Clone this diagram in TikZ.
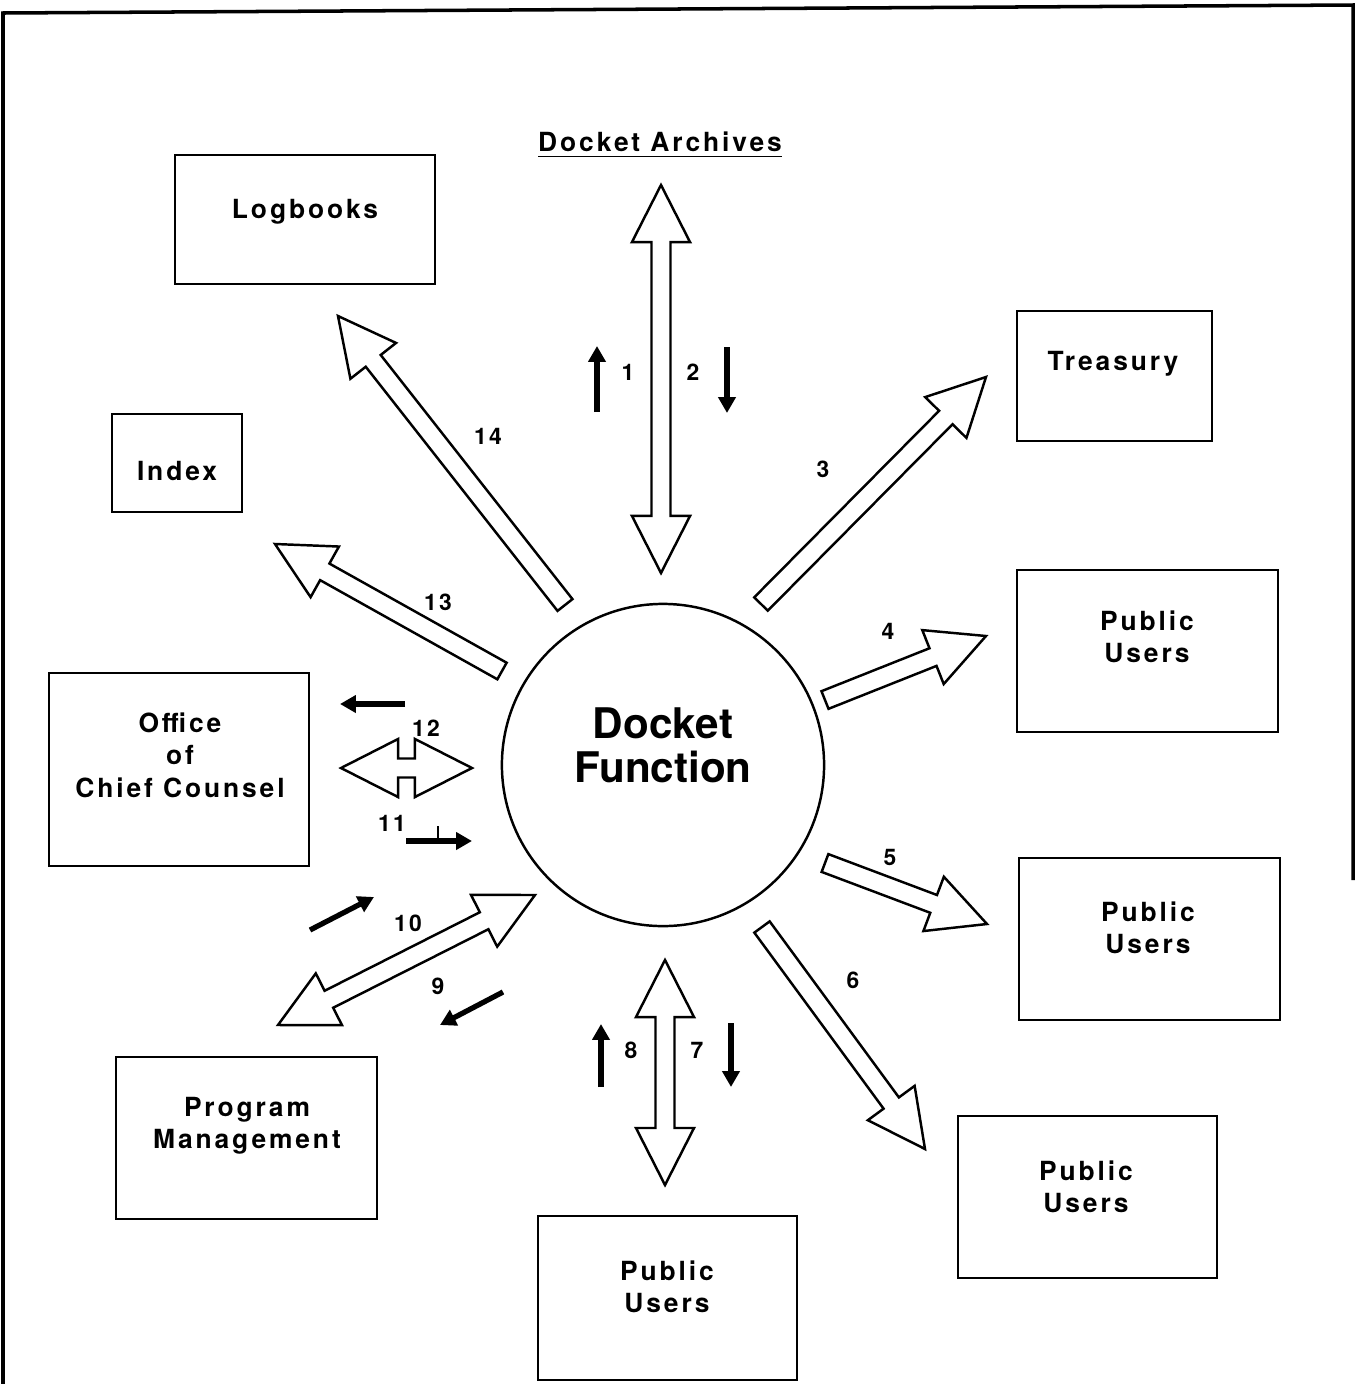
\documentclass[tikz,border=0pt]{standalone}
\usepackage{fontspec}
\setmainfont{TeX Gyre Heros}
\newfontfamily\boxfont[LetterSpace=11]{TeX Gyre Heros}
\usetikzlibrary{arrows.meta,calc}

\newcommand\shaftw{0.095cm}
\newcommand\headw{0.29cm}
\newcommand\headl{0.57cm}

% hollow block arrow: tail #1, tip #2
\newcommand\blockarrow[2]{%
  \coordinate (hb) at ($(#2)!\headl!(#1)$);
  \draw[hollow] ($(#1)!\shaftw!90:(#2)$) -- ($(hb)!\shaftw!-90:(#1)$)
    -- ($(hb)!\headw!-90:(#1)$) -- (#2) -- ($(hb)!\headw!90:(#1)$)
    -- ($(hb)!\shaftw!90:(#1)$) -- ($(#1)!\shaftw!-90:(#2)$) -- cycle;}
% hollow block arrow with two heads
\newcommand\dblockarrow[2]{%
  \coordinate (ha) at ($(#1)!\headl!(#2)$);
  \coordinate (hb) at ($(#2)!\headl!(#1)$);
  \draw[hollow] (#1) -- ($(ha)!\headw!90:(#2)$) -- ($(ha)!\shaftw!90:(#2)$)
    -- ($(hb)!\shaftw!-90:(#1)$) -- ($(hb)!\headw!-90:(#1)$) -- (#2)
    -- ($(hb)!\headw!90:(#1)$) -- ($(hb)!\shaftw!90:(#1)$)
    -- ($(ha)!\shaftw!-90:(#2)$) -- ($(ha)!\headw!-90:(#2)$) -- cycle;}

\begin{document}
\begin{tikzpicture}[
    x=0.01cm, y=-0.01cm,
    box/.style={rectangle, draw=black, line width=0.6pt},
    boxtxt/.style={align=center, inner sep=0pt, font=\boxfont\bfseries\fontsize{7.5}{9.2}\selectfont},
    num/.style={inner sep=0pt, font=\boxfont\bfseries\fontsize{6.5}{7}\selectfont},
    hollow/.style={draw=black, line width=0.7pt, fill=white, line join=miter},
    flow/.style={line width=1.5pt, -{Triangle[length=4.5pt,width=4.8pt]}}
]
\useasboundingbox (0,0) rectangle (1355,1384);

% ---- Frame ----
\draw[line width=1pt] (3,1384) -- (3,13) -- (1353,5) -- (1353,880);

% ---- Docket Function ----
\node[circle, draw=black, line width=0.7pt, minimum size=3.22cm, inner sep=0pt] (docket) at (663,765) {};
\node[align=center, font=\bfseries\fontsize{12}{12.5}\selectfont] (docket-t) at (663,745) {Docket\\Function};

% ---- Boxes ----
\node[boxtxt] (archives) at (660,145) {\underline{Docket Archives}};

\node[box, minimum width=2.6cm, minimum height=1.29cm] (logbooks) at (305,219.5) {};
\node[boxtxt] (logbooks-t) at (305,212) {Logbooks};

\node[box, minimum width=1.95cm, minimum height=1.3cm] (treasury) at (1114.5,376) {};
\node[boxtxt] (treasury-t) at (1113,364) {Treasury};

\node[box, minimum width=1.3cm, minimum height=0.98cm] (index) at (177,463) {};
\node[boxtxt] (index-t) at (177,471) {Index};

\node[box, minimum width=2.61cm, minimum height=1.62cm] (pub1) at (1147.5,651) {};
\node[boxtxt] (pub1-t) at (1147,637) {Public\\Users};

\node[box, minimum width=2.6cm, minimum height=1.93cm] (counsel) at (179,769.5) {};
\node[boxtxt] (counsel-t) at (180,755) {Office\\of\\Chief Counsel};

\node[box, minimum width=2.61cm, minimum height=1.62cm] (pub2) at (1149.5,939) {};
\node[boxtxt] (pub2-t) at (1148,928) {Public\\Users};

\node[box, minimum width=2.61cm, minimum height=1.62cm] (program) at (246.5,1138) {};
\node[boxtxt] (program-t) at (247,1126) {Program\\Management};

\node[box, minimum width=2.59cm, minimum height=1.62cm] (pub3) at (1087.5,1197) {};
\node[boxtxt] (pub3-t) at (1086,1187) {Public\\Users};

\node[box, minimum width=2.59cm, minimum height=1.64cm] (pub4) at (667.5,1298) {};
\node[boxtxt] (pub4-t) at (667,1287) {Public\\Users};

% ---- Block arrows ----
\coordinate (arc-top) at (661,185);  \coordinate (arc-bot) at (661,573);
\coordinate (t3) at (761,604);       \coordinate (h3) at (986,377);
\coordinate (t4) at (825,700);       \coordinate (h4) at (986,636);
\coordinate (t5) at (825,863);       \coordinate (h5) at (987,924);
\coordinate (t6) at (762,927);       \coordinate (h6) at (925,1149);
\coordinate (pu-top) at (665,960);   \coordinate (pu-bot) at (665,1185);
\coordinate (pm-a) at (278,1025);    \coordinate (pm-b) at (535,895);
\coordinate (oc-a) at (341,768);     \coordinate (oc-b) at (472,768);
\coordinate (t13) at (502,671);      \coordinate (h13) at (275,544);
\coordinate (t14) at (565,605);      \coordinate (h14) at (338,316);

\dblockarrow{arc-top}{arc-bot}
\blockarrow{t3}{h3}
\blockarrow{t4}{h4}
\blockarrow{t5}{h5}
\blockarrow{t6}{h6}
\dblockarrow{pu-top}{pu-bot}
\dblockarrow{pm-a}{pm-b}
\dblockarrow{oc-a}{oc-b}
\blockarrow{t13}{h13}
\blockarrow{t14}{h14}

% ---- Flow arrows ----
\coordinate (f1a) at (597,412);   \coordinate (f1b) at (597,346);
\coordinate (f2a) at (727,347);   \coordinate (f2b) at (727,413);
\coordinate (f12a) at (405,704);  \coordinate (f12b) at (340,704);
\coordinate (f11a) at (406,841);  \coordinate (f11b) at (472,841);
\coordinate (f10a) at (310,930);  \coordinate (f10b) at (374,897);
\coordinate (f9a) at (503,992);   \coordinate (f9b) at (440,1025);
\coordinate (f8a) at (601,1087);  \coordinate (f8b) at (601,1024);
\coordinate (f7a) at (731,1023);  \coordinate (f7b) at (731,1087);

\draw[flow] (f1a) -- (f1b);
\draw[flow] (f2a) -- (f2b);
\draw[flow] (f12a) -- (f12b);
\draw[flow] (f11a) -- (f11b);
\draw[line width=0.6pt] (f11a) ++(32,0) coordinate (tick) -- ++(0,-15);
\draw[flow] (f10a) -- (f10b);
\draw[flow] (f9a) -- (f9b);
\draw[flow] (f8a) -- (f8b);
\draw[flow] (f7a) -- (f7b);

% ---- Numbers ----
\node[num] (n1) at (628,372) {1};
\node[num] (n2) at (693,372) {2};
\node[num] (n3) at (823,469) {3};
\node[num] (n4) at (888,631) {4};
\node[num] (n5) at (890,857) {5};
\node[num] (n6) at (853,980) {6};
\node[num] (n7) at (697,1050) {7};
\node[num] (n8) at (631,1050) {8};
\node[num] (n9) at (438,986) {9};
\node[num] (n10) at (408,923) {10};
\node[num] (n11) at (392,823) {11};
\node[num] (n12) at (426,728) {12};
\node[num] (n13) at (438,602) {13};
\node[num] (n14) at (488,436) {14};

\end{tikzpicture}
\end{document}
